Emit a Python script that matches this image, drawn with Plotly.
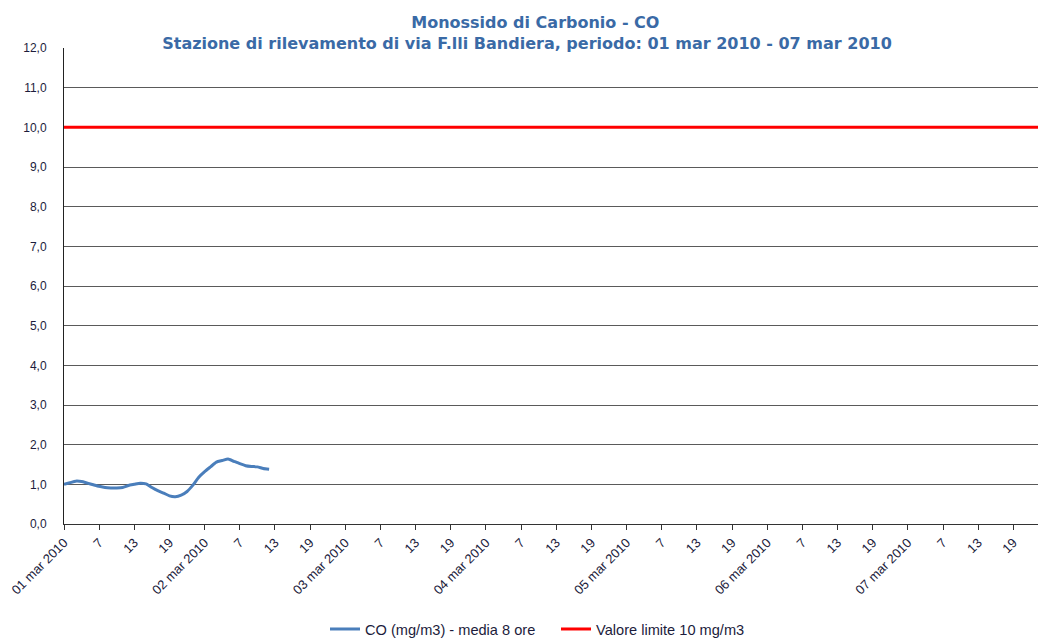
import plotly.graph_objects as go
import pandas as pd

# ---- data ----
start = pd.Timestamp("2010-03-01 00:00")
co_values = [1.00, 1.04, 1.08, 1.07, 1.03, 0.99, 0.95, 0.92, 0.91, 0.91,
             0.92, 0.97, 1.00, 1.03, 1.01, 0.92, 0.84, 0.78, 0.71, 0.69,
             0.73, 0.82, 0.98, 1.18, 1.32, 1.44, 1.56, 1.60, 1.64, 1.58,
             1.52, 1.47, 1.45, 1.44, 1.40, 1.38]
co_times = pd.date_range(start, periods=len(co_values), freq="h")

limit_times = [pd.Timestamp("2010-03-01 00:00"), pd.Timestamp("2010-03-08 00:00")]
limit_values = [10, 10]

tick_times = pd.date_range(start, pd.Timestamp("2010-03-07 18:00"), freq="6h")
tick_labels = [t.strftime("%d mar %Y") if t.hour == 0 else str(t.hour + 1) for t in tick_times]

series_names = ["CO (mg/m3) - media 8 ore", "Valore limite 10 mg/m3"]
title_lines = ["Monossido di Carbonio - CO",
               "Stazione di rilevamento di via F.lli Bandiera, periodo: 01 mar 2010 - 07 mar 2010"]

# ---- figure ----
W, H = 1038, 638
ml, mr, mt, mb = 64, 0, 48, 114
x_end = start + pd.Timedelta(hours=166.2)
label_color = "#1C1C3C"

fig = go.Figure()
fig.add_trace(go.Scatter(x=co_times, y=co_values, mode="lines", name=series_names[0],
                         line=dict(color="#4A7EBB", width=3, shape="spline", smoothing=0.5)))
fig.add_trace(go.Scatter(x=limit_times, y=limit_values, mode="lines", name=series_names[1],
                         line=dict(color="#FF0000", width=3)))

fig.update_layout(
    width=W, height=H,
    margin=dict(l=ml, r=mr, t=mt, b=mb, pad=0),
    paper_bgcolor="white", plot_bgcolor="white",
    separators=",.",
    font=dict(family="Liberation Sans, Arial, sans-serif", color=label_color),
    title=dict(text="<b>&nbsp;&nbsp;&nbsp;" + title_lines[0] + "<br>" + title_lines[1] + "</b>",
               x=527 / W, xanchor="center", y=1 - 28 / H, yanchor="middle",
               font=dict(family="DejaVu Sans, sans-serif", size=16, color="#3A6AA6")),
    showlegend=True,
    legend=dict(orientation="h", xref="container", x=325 / W, xanchor="left",
                yref="container", y=1 - 629 / H, yanchor="middle",
                font=dict(size=14.6, color=label_color), bgcolor="rgba(0,0,0,0)",
                itemwidth=30, entrywidth=186),
    xaxis=dict(type="date", range=[start, x_end], tickmode="array",
               tickvals=list(tick_times), ticktext=tick_labels, tickangle=-45,
               ticks="outside", ticklen=5, tickcolor="#333333", tickwidth=1,
               showgrid=False, showline=True, linecolor="#333333", linewidth=1,
               tickfont=dict(size=13, color=label_color), zeroline=False),
    yaxis=dict(range=[0, 12], tick0=0, dtick=1, tickformat=".1f",
               showgrid=True, gridcolor="#5A5A5A", gridwidth=1,
               showline=True, linecolor="#222222", linewidth=1, ticks="",
               tickfont=dict(size=12, color=label_color), zeroline=False,
               ticklabelstandoff=14),
)

fig.write_html("out.html", config={"displayModeBar": False},
               post_script="document.body.style.margin='0';document.body.style.overflow='hidden';")
